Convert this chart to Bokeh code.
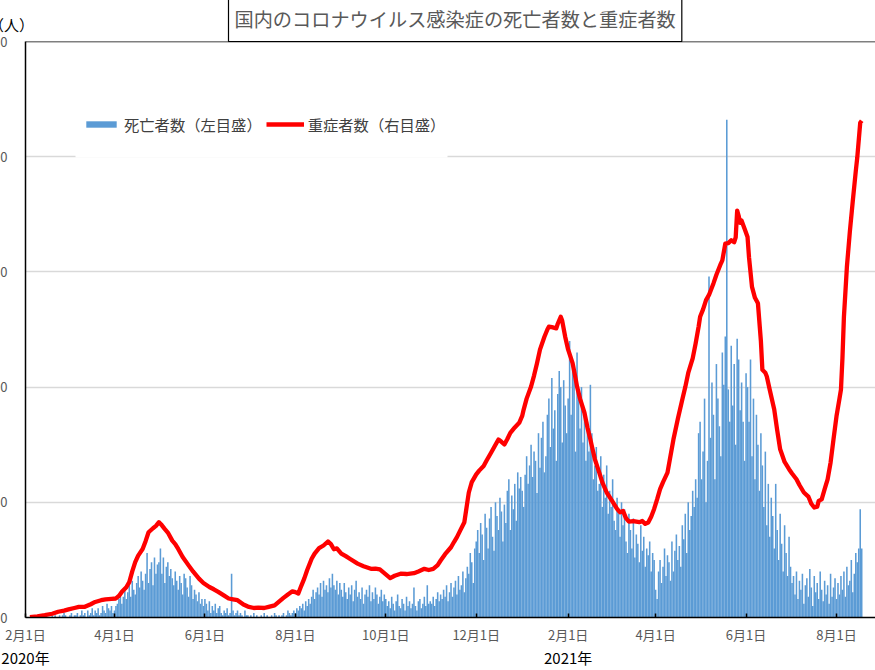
from bokeh.plotting import figure
from bokeh.models import (Range1d, LinearAxis, FixedTicker, Legend, LegendItem,
                          Label, Span, ColumnDataSource, BoxAnnotation)
from bokeh.embed import file_html
from bokeh.resources import INLINE

FONT = "Noto Sans CJK JP"

# ---- data: daily deaths (left scale), day 0 = 2020-02-01 ----
deaths_2020_02 = [0,0,0,0,0,0,0,0,0,0,0,0,0,1,0,0,0,0,1,0,1,0,0,1,0,1,2,1,0]
deaths_2020_03 = [0,1,2,0,1,1,2,0,1,3,1,2,0,3,1,2,4,1,3,2,4,1,2,5,3,2,6,4,3,5,2]
deaths_2020_04 = [3,5,6,8,10,6,9,12,8,11,14,9,16,12,10,15,18,13,20,16,12,19,28,15,21,24,14,26,19,23]
deaths_2020_05 = [24,30,19,26,15,22,24,18,21,17,14,20,16,12,18,15,10,19,17,13,9,18,14,8,12,10,7,11,6,8,5]
deaths_2020_06 = [8,6,3,7,2,5,3,6,2,4,5,2,1,3,2,4,1,2,19,3,1,2,3,1,2,1,0,3,1,1]
deaths_2020_07 = [0,1,0,2,0,1,0,0,1,0,2,0,1,0,0,1,0,2,1,0,1,0,1,2,0,1,3,2,1,2,3]
deaths_2020_08 = [2,4,3,5,4,6,3,7,5,8,6,9,12,8,11,13,10,15,9,16,12,14,11,17,13,19,14,12,16,10,15]
deaths_2020_09 = [12,9,15,11,8,13,10,14,7,12,16,9,11,8,13,6,10,12,9,14,7,11,8,13,10,6,9,12,7,10]
deaths_2020_10 = [8,5,7,4,9,6,3,7,10,5,4,8,6,3,9,5,7,4,6,13,5,3,7,8,4,6,9,5,14,6,7]
deaths_2020_11 = [6,9,5,8,11,7,10,8,12,9,14,7,11,15,9,13,16,10,18,12,14,20,11,17,22,19,28,24,15,30]
deaths_2020_12 = [33,38,28,41,36,25,45,39,30,43,48,35,29,50,44,38,52,46,33,49,41,55,60,38,53,47,58,42,63,56,61]
deaths_2021_01 = [55,48,62,70,58,66,75,61,72,68,54,80,65,78,85,63,70,88,95,74,104,82,90,68,97,107,100,76,103,92,80]
deaths_2021_02 = [95,120,88,110,105,72,115,98,82,100,76,90,68,85,72,101,80,60,66,74,55,58,70,48,62,52,66,45]
deaths_2021_03 = [55,48,60,42,38,52,45,35,50,40,47,33,28,45,38,30,43,26,36,32,24,40,29,35,22,30,27,33,20,28,25]
deaths_2021_04 = [12,8,20,25,15,22,30,18,27,24,16,33,20,29,36,25,31,22,40,34,45,28,50,38,44,55,48,60,52,80]
deaths_2021_05 = [85,60,72,95,50,68,148,78,102,88,60,110,95,83,70,115,101,122,216,99,85,118,92,110,75,121,112,90,102,85,68]
deaths_2021_06 = [106,100,85,112,70,95,60,88,75,55,80,66,48,72,40,58,35,52,44,30,58,38,25,45,32,20,40,28,18,35]
deaths_2021_07 = [22,15,18,10,20,8,16,12,19,6,14,17,9,21,13,5,18,11,15,8,20,12,7,16,10,14,6,19,9,13,17]
deaths_2021_08 = [8,15,10,18,12,20,9,22,14,16,25,11,19,28,24,30,47,30]

# ---- data: severe cases (right scale), day number and count ----
severe_day = [3,8,13,18,22,26,29,33,36,40,44,47,51,54,58,61,63,65,68,70,72,74,76,79,81,83,86,88,90,92,
              94,96,99,101,103,106,110,113,117,120,124,127,130,134,137,140,143,147,150,154,157,161,164,168,171,174,177,180,182,184,
              186,188,190,193,195,198,201,204,206,208,210,213,216,219,224,228,233,236,239,243,246,249,253,257,262,265,269,272,275,278,
              280,283,287,289,291,293,296,298,299,301,304,306,309,311,314,317,319,321,323,325,327,330,333,335,336,338,341,343,345,347,
              350,352,353,355,358,359,361,362,364,366,369,371,372,374,377,379,381,382,384,387,389,392,395,399,401,403,405,407,410,414,
              416,418,420,422,424,426,428,430,433,435,437,440,443,445,447,450,452,454,455,457,459,461,464,466,469,470,472,474,476,478,
              479,480,481,482,483,485,487,488,490,492,494,496,497,499,500,502,505,507,509,512,515,517,520,522,525,528,530,532,534,535,
              537,539,541,543,545,547,549,550,551,552,553,554,556,558,560,561,563,564]
severe_count = [1,4,8,13,20,24,28,33,37,37,46,54,60,63,65,66,75,89,105,123,160,192,215,238,265,296,310,318,331,320,
                307,295,267,255,238,210,181,160,135,120,106,98,89,76,66,63,60,45,38,33,34,33,37,42,55,68,80,91,88,83,
                110,135,165,204,222,241,250,264,255,237,240,222,213,203,187,178,169,170,167,150,137,145,152,151,154,160,169,165,169,182,
                198,220,244,262,279,300,331,400,434,470,497,510,526,545,572,600,618,610,601,620,641,660,676,700,722,760,802,840,883,930,
                975,1000,1010,1008,1004,1020,1044,1030,975,930,883,830,802,760,711,660,618,595,550,503,470,434,410,377,365,370,345,333,335,331,
                335,325,330,350,377,410,446,470,503,560,618,690,757,800,849,900,952,1010,1044,1070,1102,1120,1160,1190,1229,1240,1298,1300,1310,1303,
                1320,1413,1395,1370,1378,1350,1321,1250,1148,1110,1091,960,860,850,837,790,722,650,584,540,515,500,480,460,434,420,395,382,385,405,
                410,446,480,538,620,699,760,791,900,1044,1130,1217,1340,1447,1550,1597,1718,1725]

# ---- axis ticks ----
month_ticks = [0, 60, 121, 182, 243, 304, 366, 425, 486, 547]
month_labels = ["2月1日", "4月1日", "6月1日", "8月1日", "10月1日", "12月1日",
                "2月1日", "4月1日", "6月1日", "8月1日"]
year_ticks = [0, 366]
year_labels = ["2020年", "2021年"]
left_ticks = [0, 50, 100, 150, 200, 250]

deaths = (deaths_2020_02 + deaths_2020_03 + deaths_2020_04 + deaths_2020_05 + deaths_2020_06 +
          deaths_2020_07 + deaths_2020_08 + deaths_2020_09 + deaths_2020_10 + deaths_2020_11 +
          deaths_2020_12 + deaths_2021_01 + deaths_2021_02 + deaths_2021_03 + deaths_2021_04 +
          deaths_2021_05 + deaths_2021_06 + deaths_2021_07 + deaths_2021_08)
days = list(range(len(deaths)))

SHIFT_X = 82
SHIFT_Y = 7
p = figure(width=875 + SHIFT_X, height=670 + SHIFT_Y, output_backend="svg", toolbar_location=None,
           x_range=Range1d(0, 573.3), y_range=Range1d(0, 250),
           min_border_left=SHIFT_X + 25, min_border_right=0, min_border_top=40, min_border_bottom=51,
           margin=(-SHIFT_Y, 0, 0, -SHIFT_X))
p.outline_line_color = None
p.xgrid.visible = False
p.ygrid.grid_line_color = "#d9d9d9"
p.ygrid.grid_line_width = 1.5
p.extra_y_ranges = {"severe": Range1d(0, 2000)}

# title
p.title.text = "国内のコロナウイルス感染症の死亡者数と重症者数"
p.title.align = "left"
p.title.offset = 203
p.title.standoff = 0
p.title.text_font = FONT
p.title.text_font_size = "19.2px"
p.title.text_font_style = "normal"
p.title.text_color = "#595959"
p.title.border_line_color = "black"
p.title.border_line_width = 1.2
p.title.background_fill_color = "white"
p.title.padding = (6, 9)

# x axis
xa = p.xaxis[0]
xa.ticker = FixedTicker(ticks=month_ticks)
xa.major_label_overrides = dict(zip(month_ticks, month_labels))
xa.major_tick_in = 4
xa.major_tick_out = 0
xa.minor_tick_line_color = None
xa.axis_line_color = "black"
xa.axis_line_width = 1.5
xa.major_tick_line_color = "black"
xa.major_tick_line_width = 1.5
xa.major_label_text_font = FONT
xa.major_label_text_font_size = "13px"
xa.major_label_text_color = "#595959"
xa.major_label_standoff = 7

ya2 = LinearAxis(ticker=FixedTicker(ticks=year_ticks),
                 major_label_overrides=dict(zip(year_ticks, year_labels)),
                 axis_line_color=None, major_tick_line_color=None, minor_tick_line_color=None,
                 major_tick_in=0, major_tick_out=0,
                 major_label_text_font=FONT, major_label_text_font_size="15px",
                 major_label_text_color="black", major_label_standoff=0)
p.add_layout(ya2, "below")

# left axis
la = p.yaxis[0]
la.ticker = FixedTicker(ticks=left_ticks)
la.major_tick_in = 0
la.major_tick_out = 0
la.minor_tick_line_color = None
la.axis_line_color = "black"
la.axis_line_width = 1.5
la.major_label_text_font = FONT
la.major_label_text_font_size = "13px"
la.major_label_text_color = "#595959"
la.major_label_standoff = 18

p.add_layout(Span(location=250, dimension="width", line_color="black", line_width=1.5))

src = ColumnDataSource(dict(day=days, deaths=deaths))
bars = p.vbar(x="day", top="deaths", width=1.05, source=src,
              fill_color="#5b9bd5", line_color=None)
line = p.line(x=severe_day, y=severe_count, y_range_name="severe",
              line_color="#ff0000", line_width=4.3, line_join="round")

# white legend area (hides the gridline behind the legend, as in the original)
p.add_layout(BoxAnnotation(left=50, right=422, bottom=460, top=522,
                           left_units="screen", right_units="screen",
                           bottom_units="screen", top_units="screen",
                           fill_color="white", fill_alpha=1, line_color=None))

legend = Legend(items=[LegendItem(label="死亡者数（左目盛）", renderers=[bars]),
                       LegendItem(label="重症者数（右目盛）", renderers=[line])],
                location=(57, 482), orientation="horizontal",
                border_line_color=None, background_fill_color="white", background_fill_alpha=1,
                label_text_font=FONT, label_text_font_size="15.3px", label_text_color="#404040",
                glyph_width=38, glyph_height=8, label_standoff=4, spacing=4, padding=8, margin=0)
p.add_layout(legend)

# unit label of the left scale, above the top-left corner of the plot area
# (placed in the left side panel so that it is not clipped to the plot area)
p.add_layout(Label(x=-24.6, y=257.3, text="（人）",
                   text_font=FONT, text_font_size="15px", text_color="black",
                   text_baseline="alphabetic"), "left")

open("out.html", "w").write(file_html(p, INLINE))
